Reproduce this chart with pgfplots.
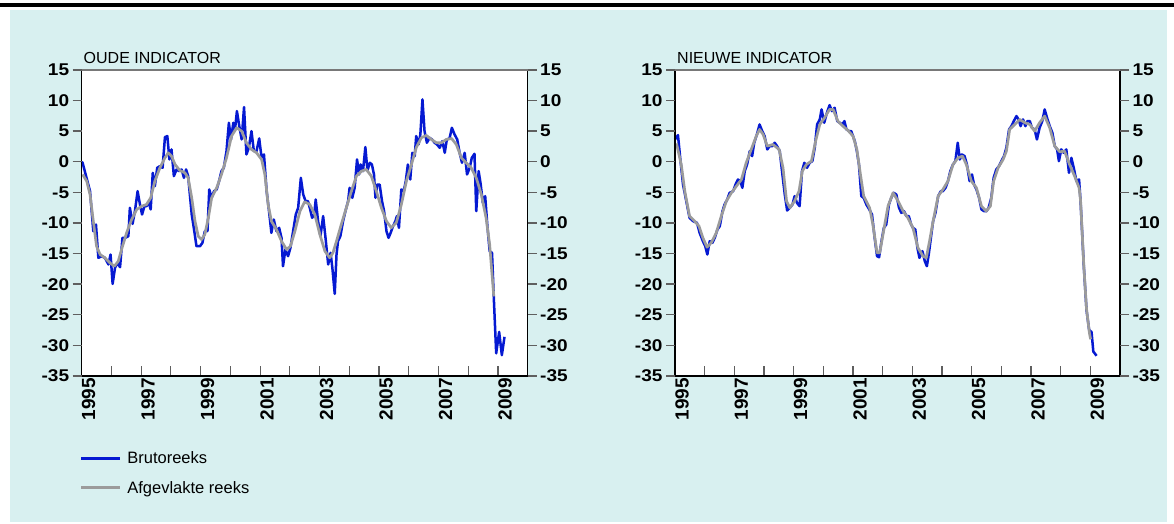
\documentclass[border=0pt]{standalone}
\usepackage{pgfplots}
\pgfplotsset{compat=1.18}
\usepackage{fontspec}
\setmainfont{Liberation Sans}
\newfontfamily\ytfont[FakeStretch=1.12]{Liberation Sans Bold}
\newfontfamily\xtfont{Liberation Sans Bold}
\definecolor{bg}{RGB}{216,240,240}
\definecolor{rawblue}{RGB}{5,25,210}
\definecolor{smgray}{RGB}{155,155,155}
\definecolor{tickgray}{RGB}{95,95,95}
\definecolor{topgray}{RGB}{120,120,120}

\pgfplotsset{
  panel/.style={scale only axis, width=446pt, height=306pt,
    xmin=1995, xmax=2010, ymin=-35, ymax=15, anchor=south west,
    axis line style={draw=none}, clip=false},
  dataax/.style={panel, axis background/.style={fill=white},
    xtick={1995,1996,...,2010},
    xticklabels={1995,,1997,,1999,,2001,,2003,,2005,,2007,,2009,},
    xtick pos=left, ytick=\empty, tick align=inside, major tick length=10pt,
    major tick style={draw=tickgray, line width=1.1pt},
    xticklabel style={font=\xtfont\fontsize{19}{19}\selectfont, rotate=90, anchor=east, yshift=-7pt, xshift=1.5pt},
  },
  yax/.style={panel, xtick=\empty, ytick={-35,-30,...,15},
    tick align=outside, major tick length=9pt,
    major tick style={draw=tickgray, line width=1.4pt},
    yticklabel style={font=\ytfont\fontsize{17}{17}\selectfont},
    /pgf/number format/assume math mode=true},
  rawst/.style={rawblue, line width=2.5pt, line join=round},
  smst/.style={smgray, line width=2.7pt, line join=round},
}

\begin{document}
\begin{tikzpicture}[x=1pt,y=1pt]
\fill[white] (0,0) rectangle (1174,524);
\fill[bg] (10,2) rectangle (1167,514);
\fill[black] (0,517) rectangle (1174,520.5);
\useasboundingbox (0,0) rectangle (1174,524);

% ---------------- LEFT PANEL ----------------
\begin{axis}[dataax, at={(81.7pt,148pt)},
  legend style={at={(-0.005,-0.24)}, anchor=north west, draw=none, fill=none,
    font=\fontsize{16.5}{16.5}\selectfont, row sep=12pt, inner sep=0pt},
  legend cell align=left,
  legend image code/.code={\draw[#1] (0pt,0pt) -- (39pt,0pt); \path (43pt,0pt);}]
\addplot[rawst] table {
1995.00 0.00
1995.03 -0.16
1995.28 -4.80
1995.39 -11.34
1995.48 -10.25
1995.56 -15.69
1995.67 -15.42
1995.78 -15.69
1995.90 -16.78
1995.97 -15.15
1996.04 -19.95
1996.12 -17.33
1996.20 -16.51
1996.29 -17.22
1996.37 -12.43
1996.46 -12.43
1996.57 -12.15
1996.62 -7.52
1996.71 -10.14
1996.79 -8.07
1996.88 -4.80
1996.96 -6.98
1997.03 -8.61
1997.11 -7.25
1997.18 -7.25
1997.26 -6.70
1997.32 -7.79
1997.39 -1.80
1997.46 -3.98
1997.54 -0.98
1997.63 -0.71
1997.72 -0.98
1997.80 4.03
1997.88 4.20
1997.95 0.38
1998.02 2.02
1998.10 -2.34
1998.19 -1.25
1998.28 -1.53
1998.36 -1.25
1998.44 -2.62
1998.51 -1.25
1998.58 -2.34
1998.70 -8.61
1998.77 -10.79
1998.86 -13.79
1998.98 -13.79
1999.06 -13.24
1999.14 -11.34
1999.23 -11.34
1999.29 -4.52
1999.37 -5.89
1999.45 -4.80
1999.54 -4.52
1999.62 -3.16
1999.70 -1.53
1999.78 -0.98
1999.87 1.74
1999.95 6.38
2000.02 3.65
2000.10 6.38
2000.15 5.01
2000.22 8.28
2000.30 5.83
2000.38 3.65
2000.46 8.94
2000.54 1.20
2000.62 2.29
2000.71 5.01
2000.79 1.74
2000.88 1.74
2000.97 3.81
2001.05 0.65
2001.13 1.20
2001.22 -4.80
2001.30 -8.07
2001.38 -11.61
2001.46 -9.43
2001.55 -11.34
2001.64 -10.79
2001.72 -12.43
2001.77 -17.06
2001.85 -14.33
2001.94 -15.42
2002.02 -14.06
2002.11 -11.34
2002.20 -8.61
2002.28 -7.52
2002.37 -2.62
2002.45 -5.34
2002.53 -6.43
2002.61 -6.43
2002.67 -7.52
2002.75 -9.16
2002.82 -8.61
2002.87 -6.16
2002.95 -9.70
2003.03 -12.15
2003.12 -8.88
2003.20 -12.43
2003.29 -16.78
2003.37 -14.88
2003.43 -17.33
2003.51 -21.58
2003.57 -15.15
2003.62 -12.97
2003.70 -12.15
2003.79 -9.70
2003.87 -8.07
2003.96 -6.43
2004.01 -4.25
2004.10 -5.89
2004.18 -4.25
2004.26 0.38
2004.33 -2.07
2004.38 -0.44
2004.46 -1.53
2004.54 2.40
2004.61 -1.42
2004.69 -0.16
2004.76 -0.44
2004.83 -2.07
2004.88 -5.89
2004.94 -3.71
2005.02 -3.71
2005.10 -6.43
2005.17 -8.07
2005.25 -11.34
2005.32 -12.43
2005.39 -11.61
2005.47 -10.52
2005.55 -9.70
2005.60 -8.88
2005.67 -10.79
2005.75 -4.52
2005.83 -4.80
2005.90 -3.16
2005.97 -0.44
2006.05 -2.89
2006.12 1.47
2006.20 0.93
2006.25 4.20
2006.33 2.83
2006.39 4.47
2006.46 10.19
2006.53 5.01
2006.61 3.11
2006.70 3.92
2006.78 3.65
2006.87 3.11
2006.95 2.83
2007.04 2.29
2007.13 3.38
2007.21 1.47
2007.28 3.65
2007.37 3.81
2007.45 5.56
2007.54 4.47
2007.63 3.65
2007.71 1.47
2007.79 -0.16
2007.88 1.47
2007.96 -2.07
2008.05 -0.98
2008.12 0.65
2008.21 1.31
2008.27 -8.07
2008.35 -1.53
2008.42 -3.71
2008.49 -6.70
2008.57 -5.61
2008.64 -10.25
2008.72 -14.60
2008.80 -14.88
2008.86 -22.23
2008.94 -31.30
2009.04 -27.80
2009.13 -31.60
2009.22 -28.60
};
\addlegendentry{Brutoreeks}
\addplot[smst] table {
1995.03 -2.07
1995.17 -3.16
1995.28 -5.34
1995.39 -9.70
1995.50 -13.79
1995.62 -15.15
1995.78 -15.69
1995.95 -16.51
1996.10 -17.06
1996.23 -16.24
1996.34 -14.33
1996.51 -11.61
1996.68 -9.43
1996.85 -7.79
1997.02 -7.25
1997.18 -6.98
1997.32 -5.89
1997.46 -3.16
1997.63 -0.98
1997.80 0.65
1997.91 1.47
1998.02 0.93
1998.14 -0.44
1998.30 -1.42
1998.47 -1.80
1998.58 -2.62
1998.70 -5.89
1998.81 -9.70
1998.92 -12.15
1999.03 -12.70
1999.14 -11.88
1999.26 -9.16
1999.37 -5.89
1999.54 -4.25
1999.70 -2.07
1999.87 0.65
2000.04 4.20
2000.21 5.56
2000.38 5.01
2000.54 3.11
2000.71 2.02
2000.88 1.47
2001.05 0.38
2001.16 -2.07
2001.27 -6.98
2001.38 -9.70
2001.55 -11.06
2001.72 -12.97
2001.89 -14.33
2002.02 -13.79
2002.17 -11.34
2002.34 -8.07
2002.50 -6.54
2002.67 -6.98
2002.84 -8.61
2003.01 -11.88
2003.18 -14.60
2003.34 -15.69
2003.45 -14.88
2003.57 -12.97
2003.73 -10.25
2003.90 -7.52
2004.07 -4.80
2004.24 -2.34
2004.41 -1.53
2004.57 -1.25
2004.74 -2.34
2004.91 -4.80
2005.08 -7.52
2005.25 -9.70
2005.41 -10.79
2005.58 -9.97
2005.75 -6.98
2005.92 -3.16
2006.09 -0.44
2006.25 2.29
2006.42 3.92
2006.59 4.31
2006.76 3.65
2006.93 3.11
2007.10 3.11
2007.26 3.65
2007.44 3.81
2007.60 2.83
2007.77 0.65
2007.93 -0.16
2008.10 -0.98
2008.27 -2.62
2008.44 -5.34
2008.60 -9.16
2008.72 -13.51
2008.86 -22.00
};
\addlegendentry{Afgevlakte reeks}
\draw[black, line width=1.5pt] (rel axis cs:0,1) -- (rel axis cs:0,0) -- (rel axis cs:1,0) -- (rel axis cs:1,1);
\draw[topgray, line width=2pt] (rel axis cs:0,1) -- (rel axis cs:1,1);
\end{axis}
\begin{axis}[yax, at={(81.7pt,148pt)}, ytick pos=left, yticklabel pos=left]
\end{axis}
\begin{axis}[yax, at={(81.7pt,148pt)}, ytick pos=right, yticklabel pos=right]
\end{axis}
\node[anchor=base west, font=\fontsize{16}{16}\selectfont, inner sep=0pt] at (83.5,460) {OUDE INDICATOR};

% ---------------- RIGHT PANEL ----------------
\begin{axis}[dataax, at={(675pt,148pt)}, width=445pt]
\addplot[rawst] table {
1995.00 3.65
1995.10 4.36
1995.18 0.38
1995.27 -3.71
1995.38 -6.43
1995.49 -9.16
1995.61 -9.70
1995.74 -9.97
1995.83 -11.61
1995.94 -12.97
1996.02 -13.79
1996.09 -15.15
1996.17 -12.97
1996.26 -13.24
1996.34 -12.43
1996.43 -11.06
1996.51 -10.52
1996.60 -8.07
1996.67 -6.98
1996.76 -6.16
1996.84 -5.07
1996.96 -4.80
1997.04 -3.71
1997.12 -2.89
1997.20 -3.16
1997.27 -4.25
1997.35 -1.53
1997.43 -0.44
1997.52 1.74
1997.60 0.93
1997.67 3.11
1997.76 4.47
1997.85 6.10
1997.94 5.01
1998.02 4.20
1998.11 2.02
1998.19 2.56
1998.28 2.56
1998.36 3.11
1998.44 2.56
1998.53 1.74
1998.62 -2.07
1998.70 -5.34
1998.78 -7.96
1998.87 -7.52
1998.96 -6.98
1999.03 -5.61
1999.11 -6.70
1999.20 -7.25
1999.28 -1.53
1999.36 -0.16
1999.45 -0.98
1999.54 -0.16
1999.63 0.11
1999.71 2.29
1999.79 6.10
1999.88 6.92
1999.94 8.56
2000.03 6.38
2000.12 8.01
2000.21 9.26
2000.29 8.28
2000.38 8.83
2000.47 6.65
2000.55 6.38
2000.64 6.10
2000.71 6.65
2000.78 5.29
2000.87 5.01
2000.94 5.01
2001.06 3.38
2001.13 1.74
2001.20 -0.44
2001.28 -5.61
2001.36 -5.89
2001.45 -6.98
2001.55 -7.79
2001.64 -8.61
2001.73 -12.43
2001.81 -15.42
2001.88 -15.59
2001.96 -12.97
2002.04 -10.79
2002.12 -10.25
2002.21 -6.98
2002.29 -5.89
2002.37 -5.07
2002.46 -5.34
2002.55 -7.52
2002.63 -8.34
2002.72 -8.07
2002.80 -8.88
2002.88 -8.88
2002.96 -10.25
2003.02 -10.79
2003.10 -11.06
2003.17 -14.06
2003.24 -15.69
2003.34 -14.60
2003.42 -16.24
2003.49 -17.06
2003.56 -14.88
2003.64 -11.88
2003.70 -9.70
2003.78 -8.34
2003.87 -5.61
2003.96 -4.80
2004.03 -4.80
2004.12 -4.25
2004.20 -3.16
2004.28 -1.53
2004.37 -0.44
2004.45 0.11
2004.53 3.11
2004.60 0.38
2004.67 1.20
2004.76 0.93
2004.84 -0.44
2004.93 -3.16
2005.01 -2.07
2005.08 -3.71
2005.16 -4.52
2005.25 -5.89
2005.33 -7.79
2005.42 -8.07
2005.50 -8.07
2005.57 -7.52
2005.66 -5.89
2005.74 -2.62
2005.83 -1.25
2005.92 -0.71
2006.00 0.11
2006.09 0.93
2006.17 2.29
2006.26 5.29
2006.34 5.83
2006.42 6.65
2006.51 7.47
2006.58 6.92
2006.65 5.83
2006.73 6.92
2006.81 5.83
2006.88 6.65
2006.96 6.65
2007.03 5.56
2007.12 5.29
2007.20 3.65
2007.29 5.56
2007.38 6.65
2007.46 8.56
2007.54 7.19
2007.63 5.83
2007.72 4.74
2007.80 2.56
2007.88 2.02
2007.94 0.11
2008.02 2.02
2008.10 1.47
2008.19 2.02
2008.28 -1.80
2008.36 0.65
2008.44 -0.98
2008.53 -3.16
2008.62 -2.89
2008.67 -6.43
2008.78 -17.10
2008.87 -24.20
2008.96 -27.50
2009.04 -27.80
2009.10 -31.00
2009.21 -31.70
};
\addplot[smst] table {
1995.05 3.00
1995.21 -0.44
1995.33 -4.80
1995.49 -8.88
1995.66 -9.70
1995.81 -10.52
1995.94 -12.43
1996.08 -13.95
1996.22 -13.24
1996.39 -11.61
1996.56 -8.88
1996.73 -6.43
1996.90 -5.07
1997.07 -3.98
1997.24 -2.89
1997.40 -0.16
1997.57 2.02
1997.74 4.20
1997.85 5.29
1997.97 4.47
1998.11 2.56
1998.30 2.83
1998.51 2.02
1998.64 -0.98
1998.76 -6.43
1998.87 -7.52
1999.03 -6.43
1999.18 -4.80
1999.29 -1.53
1999.43 -0.44
1999.60 0.11
1999.74 3.38
1999.88 6.10
2000.04 7.19
2000.21 8.56
2000.33 8.56
2000.49 6.65
2000.66 5.83
2000.83 5.12
2001.00 4.20
2001.13 2.02
2001.25 -2.07
2001.36 -5.61
2001.56 -7.52
2001.67 -10.25
2001.81 -14.88
2001.90 -14.88
2002.03 -11.34
2002.18 -7.25
2002.35 -5.07
2002.52 -6.43
2002.69 -8.07
2002.85 -9.16
2003.02 -10.79
2003.19 -14.06
2003.36 -15.42
2003.47 -15.69
2003.58 -12.97
2003.70 -9.70
2003.87 -5.61
2004.03 -4.52
2004.20 -3.16
2004.37 -0.44
2004.54 0.65
2004.69 0.93
2004.82 -0.44
2004.99 -3.16
2005.16 -4.25
2005.33 -7.25
2005.49 -8.07
2005.63 -7.25
2005.74 -3.16
2005.89 -0.98
2006.06 0.38
2006.17 1.74
2006.28 5.29
2006.45 6.10
2006.62 6.92
2006.79 6.38
2006.96 6.10
2007.12 5.01
2007.29 6.38
2007.46 7.47
2007.63 5.56
2007.80 2.56
2007.97 1.63
2008.13 1.74
2008.30 -0.44
2008.47 -2.34
2008.62 -4.25
2008.67 -6.30
2008.78 -17.00
2008.87 -24.00
2008.97 -28.00
2009.01 -29.00
};
\draw[black, line width=1.5pt] (rel axis cs:0,1) -- (rel axis cs:0,0) -- (rel axis cs:1,0) -- (rel axis cs:1,1);
\draw[topgray, line width=2pt] (rel axis cs:0,1) -- (rel axis cs:1,1);
\end{axis}
\begin{axis}[yax, at={(675pt,148pt)}, width=445pt, ytick pos=left, yticklabel pos=left]
\end{axis}
\begin{axis}[yax, at={(675pt,148pt)}, width=445pt, ytick pos=right, yticklabel pos=right]
\end{axis}
\node[anchor=base west, font=\fontsize{16}{16}\selectfont, inner sep=0pt] at (677,460) {NIEUWE INDICATOR};
\end{tikzpicture}
\end{document}
